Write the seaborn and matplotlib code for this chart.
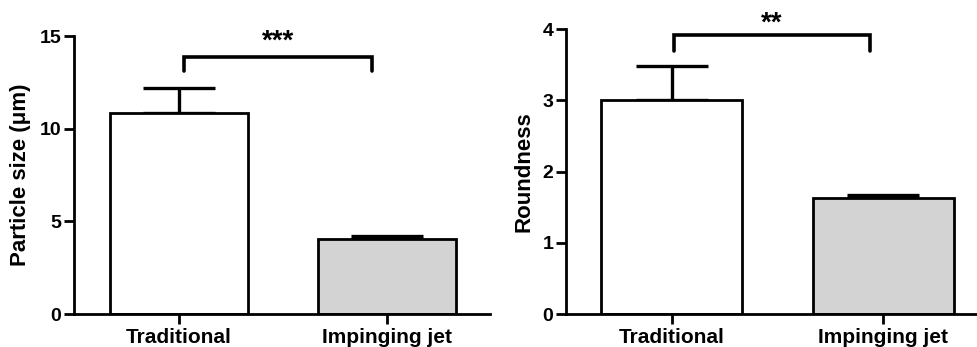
import matplotlib
matplotlib.use("Agg")
import matplotlib.pyplot as plt
import seaborn as sns
import pandas as pd

categories = ["Traditional", "Impinging jet"]
size_mean = [10.85, 4.04]
size_err = [1.35, 0.15]
round_mean = [3.0, 1.625]
round_err = [0.48, 0.04]
size_sig = "***"
round_sig = "**"

sns.set_theme(style="ticks")
plt.rcParams['font.family'] = ['Liberation Sans', 'DejaVu Sans']
plt.rcParams['font.weight'] = 'bold'
plt.rcParams['text.color'] = 'black'
plt.rcParams['axes.labelcolor'] = 'black'
plt.rcParams['xtick.color'] = 'black'
plt.rcParams['ytick.color'] = 'black'

colors = ["#ffffff", "#d3d3d3"]

fig = plt.figure(figsize=(9.77, 3.47), dpi=100)
ax1 = fig.add_axes([0.0757, 0.0951, 0.4258, 0.801])
ax2 = fig.add_axes([0.5793, 0.0951, 0.4207, 0.8205])

def panel(ax, means, errs, ylabel, ylim, yticks, xlim, width, sig, br_x, br_y, br_drop, star_y):
    df = pd.DataFrame({"cat": categories, "val": means})
    sns.barplot(data=df, x="cat", y="val", hue="cat", palette=colors, legend=False,
                edgecolor="black", linewidth=2.0, width=width, ax=ax, errorbar=None,
                zorder=2)
    ax.errorbar(range(len(means)), means, yerr=[[0] * len(means), errs], fmt="none",
                ecolor="black", elinewidth=2.4, capsize=26, capthick=2.4, zorder=1)
    ax.set_ylim(*ylim)
    ax.set_xlim(*xlim)
    ax.set_yticks(yticks)
    ax.set_xlabel("")
    ax.set_ylabel(ylabel, fontsize=16, fontweight="bold", labelpad=6, color="black")
    for s in ["top", "right"]:
        ax.spines[s].set_visible(False)
    for s in ["left", "bottom"]:
        ax.spines[s].set_linewidth(2.0)
        ax.spines[s].set_color("black")
    ax.tick_params(axis="y", width=2.0, length=7, labelsize=14, colors="black", pad=2)
    ax.tick_params(axis="x", width=2.0, length=7, labelsize=15, colors="black", pad=3)
    for lab in ax.get_xticklabels() + ax.get_yticklabels():
        lab.set_fontweight("bold")
    x0, x1 = br_x
    ax.plot([x0, x0, x1, x1], [br_y - br_drop, br_y, br_y, br_y - br_drop],
            color="black", lw=2.6, clip_on=False, solid_joinstyle="miter")
    ax.text((x0 + x1) / 2, star_y, sig, ha="center", va="center",
            fontsize=20, fontweight="bold", clip_on=False, color="black")

panel(ax1, size_mean, size_err, "Particle size (\u03bcm)", (0, 15), [0, 5, 10, 15],
      (-0.505, 1.495), 0.663, size_sig, (0.024, 0.928), 13.87, 0.76, 14.72)
panel(ax2, round_mean, round_err, "Roundness", (0, 4), [0, 1, 2, 3, 4],
      (-0.502, 1.445), 0.668, round_sig, (0.01, 0.938), 3.92, 0.23, 4.08)

fig.savefig("out.png", dpi=100, facecolor="white")
